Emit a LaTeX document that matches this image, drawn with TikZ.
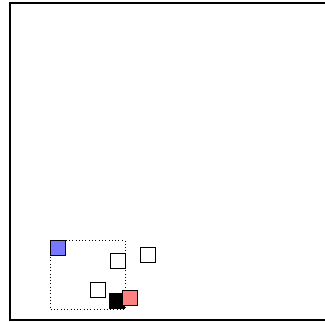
\documentclass[tikz,border=0pt]{standalone}
\begin{document}
\begin{tikzpicture}[x=1pt,y=-1pt,
  sq/.style={draw=black,line width=0.9pt,minimum size=15pt,inner sep=0pt,outer sep=0pt,anchor=north west},
  frame/.style={draw=black,line width=1.6pt},
  dotbox/.style={draw=black,line width=0.8pt,dash pattern=on 0.8pt off 2.5pt}]
\useasboundingbox (0,0) rectangle (325,322);
\begin{scope}
\clip (0,0) rectangle (325,322);
\draw[frame] (10,3) rectangle (335,320);
\end{scope}
\draw[dotbox] (50,240.5) rectangle (125,309);
\node[sq,fill={rgb,255:red,120;green,120;blue,255}] (blue) at (50,240.5) {};
\node[sq,fill=white] (w1) at (110,253.5) {};
\node[sq,fill=white] (w2) at (140,247.5) {};
\node[sq,fill=white] (w3) at (90,282.5) {};
\node[sq,fill=black] (blk) at (109.5,293.5) {};
\node[sq,fill={rgb,255:red,255;green,128;blue,128}] (red) at (122.5,290.5) {};
\end{tikzpicture}
\end{document}
